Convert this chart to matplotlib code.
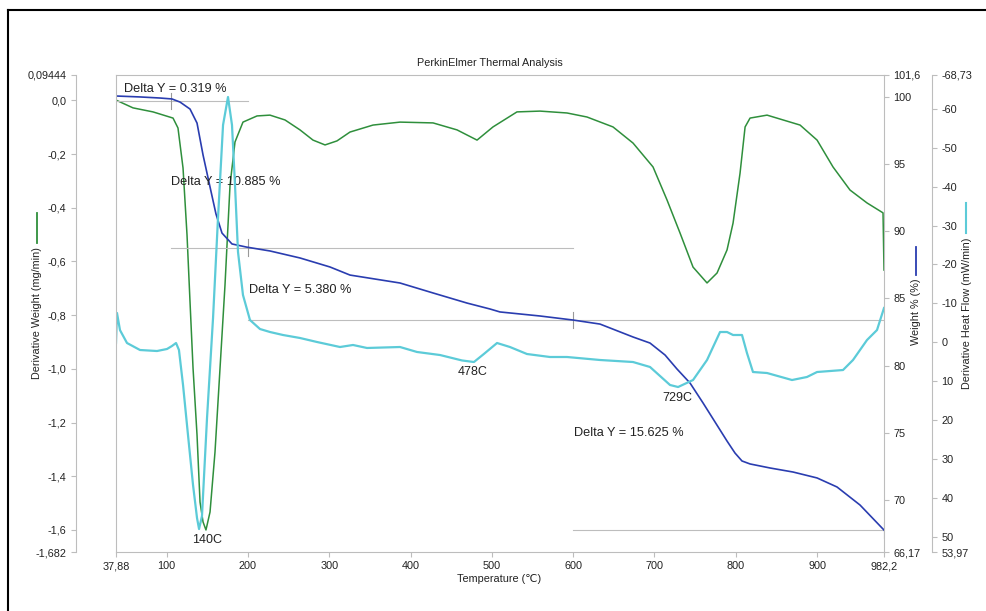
import numpy as np
import matplotlib
matplotlib.use('Agg')
import matplotlib.pyplot as plt
from matplotlib.lines import Line2D

plt.rcParams['font.family'] = ['Liberation Sans', 'DejaVu Sans']

# Weight % (TGA) curve
temp_w = [37.88, 67.4, 92.0, 106.7, 116.6, 128.9, 137.5, 144.9, 153.5, 160.8, 168.2,
          180.5, 198.2, 227.2, 264.1, 301.0, 325.6, 387.1, 427.7, 469.5,
          497.7, 510.0, 559.2, 599.8, 633.0, 673.6, 694.5, 713.0, 727.7, 743.7, 759.7,
          774.4, 789.2, 799.0, 807.6, 817.5, 842.1, 870.4, 899.9, 924.4, 952.7, 982.2]
weight = [100.04, 99.97, 99.89, 99.82, 99.59, 99.07, 98.03, 95.66, 93.28, 91.28, 89.86,
          89.05, 88.82, 88.53, 88.01, 87.34, 86.74, 86.15, 85.41, 84.66,
          84.22, 84.00, 83.70, 83.40, 83.10, 82.14, 81.69, 80.80, 79.76, 78.72, 77.24,
          75.83, 74.41, 73.52, 72.93, 72.71, 72.41, 72.11, 71.67, 71.00, 69.66, 67.80]

# Derivative weight (DTG) curve, mg/min
temp_dw = [37.88, 58.8, 83.4, 108.0, 114.1, 120.3, 125.2, 128.9, 132.6, 137.5, 141.2,
           144.9, 148.5, 153.5, 159.6, 165.8, 171.9, 178.1, 184.2, 194.0, 211.3, 227.2,
           245.7, 264.1, 280.1, 294.9, 309.6, 325.6, 353.9, 387.1, 427.7, 457.2, 481.8,
           501.4, 530.9, 559.2, 592.4, 617.0, 649.0, 673.6, 698.2, 715.4, 731.4, 747.4,
           764.6, 776.9, 789.2, 796.6, 805.2, 811.4, 817.5, 838.4, 879.0, 899.9, 919.5,
           940.4, 961.3, 981.0, 982.2]
deriv_w = [0.001, -0.028, -0.043, -0.066, -0.103, -0.252, -0.501, -0.751, -0.997, -1.246,
           -1.496, -1.570, -1.600, -1.533, -1.310, -0.997, -0.688, -0.315, -0.155, -0.081,
           -0.058, -0.055, -0.073, -0.110, -0.148, -0.166, -0.151, -0.118, -0.092, -0.081,
           -0.084, -0.110, -0.148, -0.099, -0.043, -0.040, -0.047, -0.062, -0.099, -0.159,
           -0.248, -0.371, -0.494, -0.621, -0.680, -0.643, -0.557, -0.457, -0.271, -0.099,
           -0.066, -0.055, -0.092, -0.148, -0.248, -0.334, -0.382, -0.419, -0.632]

# Derivative heat flow curve, mW/min
temp_hf = [37.88, 39.1, 42.8, 51.4, 67.4, 88.3, 100.6, 106.7, 111.7, 115.3, 120.3, 126.4,
           132.6, 137.5, 140.0, 143.6, 149.8, 157.2, 163.3, 169.5, 175.6, 180.5, 184.2,
           187.9, 194.0, 202.6, 214.9, 227.2, 243.2, 264.1, 285.0, 313.3, 329.3, 346.5,
           387.1, 408.0, 436.3, 463.3, 478.0, 490.4, 506.4, 522.3, 543.2, 571.5, 592.4,
           633.0, 673.6, 694.5, 719.1, 729.0, 747.4, 764.6, 780.6, 789.2, 796.6, 807.6,
           813.7, 821.1, 838.4, 869.1, 887.5, 899.9, 931.8, 944.1, 961.3, 973.6, 982.2]
heat_flow = [0.21, -7.51, -3.10, 0.21, 2.01, 2.27, 1.75, 0.98, 0.21, 2.01, 11.01, 23.87,
             36.74, 45.23, 48.06, 44.71, 19.50, -6.22, -31.94, -55.87, -63.07, -55.87,
             -40.43, -23.20, -12.14, -5.71, -3.39, -2.62, -1.85, -1.08, -0.05, 1.24, 0.72,
             1.49, 1.24, 2.52, 3.30, 4.70, 5.10, 3.00, 0.21, 1.24, 3.04, 3.81, 3.81, 4.58,
             5.10, 6.38, 11.01, 11.53, 9.73, 4.58, -2.62, -2.62, -1.85, -1.85, 2.78, 7.67,
             7.93, 9.73, 8.95, 7.67, 7.16, 4.58, -0.56, -3.13, -8.79]

# Weight-loss steps
start_weight = 99.99
delta_y = [0.319, 10.885, 5.380, 15.625]
step_bounds = [37.88, 105.5, 200.0, 600.0, 982.2]
delta_text_pos = [(47.7, 100.56), (105.5, 93.65), (201.4, 85.63), (601.0, 75.01)]

# Peak temperatures on the heat flow curve
peak_temps = [140, 478, 729]
peak_text_pos = [(149.8, 50.9), (476.8, 7.67), (727.7, 14.36)]

x_ticks = [37.88, 100, 200, 300, 400, 500, 600, 700, 800, 900, 982.2]
x_labels = ['37,88', '100', '200', '300', '400', '500', '600', '700', '800', '900', '982,2']
dw_ticks = [0.09444, 0.0, -0.2, -0.4, -0.6, -0.8, -1.0, -1.2, -1.4, -1.6, -1.682]
dw_labels = ['0,09444', '0,0', '-0,2', '-0,4', '-0,6', '-0,8', '-1,0', '-1,2', '-1,4', '-1,6', '-1,682']
w_ticks = [66.17, 70, 75, 80, 85, 90, 95, 100, 101.6]
w_labels = ['66,17', '70', '75', '80', '85', '90', '95', '100', '101,6']
hf_ticks = [-68.73, -60, -50, -40, -30, -20, -10, 0, 10, 20, 30, 40, 50, 53.97]
hf_labels = ['-68,73', '-60', '-50', '-40', '-30', '-20', '-10', '0', '10', '20', '30', '40', '50', '53,97']

GREEN = '#2f8f3c'
BLUE = '#2a3db0'
CYAN = '#5ccbd8'
GREY = '#bdbdbd'
TXT = '#222222'

W, H = 986, 611
PX = 72 / 100  # points per pixel at 100 dpi


def fx(px):
    return px / W


def fy(py):
    return 1 - py / H


fig = plt.figure(figsize=(9.86, 6.11), dpi=100)
ax = fig.add_axes([fx(116), fy(552), fx(884) - fx(116), fy(75) - fy(552)])
ax_w = ax.twinx()
ax_hf = ax.twinx()

tick_kw = dict(direction='out', length=4 * PX * 1.3, width=0.8, color=GREY,
               labelsize=7.8, labelcolor=TXT, pad=3)

# derivative weight axis (left, detached)
ax.plot(temp_dw, deriv_w, color=GREEN, lw=1.1)
ax.set_xlim(37.88, 982.2)
ax.set_ylim(-1.682, 0.09444)
ax.set_xticks(x_ticks, x_labels)
ax.set_yticks(dw_ticks, dw_labels)
ax.tick_params(axis='both', **tick_kw)
ax.spines['left'].set_position(('outward', 40 * PX))
ax.spines['right'].set_visible(False)
for s in ['left', 'top', 'bottom']:
    ax.spines[s].set_color(GREY)
    ax.spines[s].set_linewidth(0.8)

# weight % axis
ax_w.plot(temp_w, weight, color=BLUE, lw=1.2, zorder=3)
ax_w.set_ylim(66.17, 101.6)
ax_w.set_yticks(w_ticks, w_labels)
ax_w.tick_params(axis='y', **tick_kw)
for s in ['left', 'top', 'bottom']:
    ax_w.spines[s].set_visible(False)
ax_w.spines['right'].set_color(GREY)
ax_w.spines['right'].set_linewidth(0.8)

# step lines for each Delta Y
levels = start_weight - np.cumsum(delta_y)
for i, lev in enumerate(levels):
    x0 = step_bounds[i]
    x1 = step_bounds[min(i + 2, len(step_bounds) - 1)]
    xt = step_bounds[i + 1]
    ax_w.plot([x0, x1], [lev, lev], color=GREY, lw=0.8, zorder=1)
    ax_w.plot([xt, xt], [lev - 0.6, lev + 0.6], color='#999999', lw=0.8, zorder=1)
    tx, ty = delta_text_pos[i]
    ax_w.text(tx, ty, 'Delta Y = %.3f %%' % delta_y[i], fontsize=9.2,
              color=TXT, ha='left', va='center')

# derivative heat flow axis (outer right, inverted)
ax_hf.plot(temp_hf, heat_flow, color=CYAN, lw=1.6, zorder=2)
ax_hf.set_ylim(53.97, -68.73)
ax_hf.set_yticks(hf_ticks, hf_labels)
ax_hf.tick_params(axis='y', **tick_kw)
ax_hf.spines['right'].set_position(('outward', 48 * PX))
ax_hf.spines['top'].set_visible(False)
ax_hf.spines['bottom'].set_visible(False)
for s in ['left', 'right']:
    ax_hf.spines[s].set_color(GREY)
    ax_hf.spines[s].set_linewidth(0.8)

for t, (tx, ty) in zip(peak_temps, peak_text_pos):
    ax_hf.text(tx, ty, '%dC' % t, fontsize=9, color=TXT, ha='center', va='center')

# titles and axis labels
fig.text(fx(490), fy(63), 'PerkinElmer Thermal Analysis', fontsize=7.8,
         color=TXT, ha='center', va='center')
fig.text(fx(499), fy(579), 'Temperature (℃)', fontsize=7.8, color=TXT,
         ha='center', va='center')
fig.text(fx(37), fy(313), 'Derivative Weight (mg/min)', fontsize=7.8, color=TXT,
         rotation=90, ha='center', va='center')
fig.text(fx(916), fy(312), 'Weight % (%)', fontsize=7.8, color=TXT,
         rotation=90, ha='center', va='center')
fig.text(fx(967), fy(313), 'Derivative Heat Flow (mW/min)', fontsize=7.8, color=TXT,
         rotation=90, ha='center', va='center')

# colour keys next to the axis labels
fig.add_artist(Line2D([fx(37), fx(37)], [fy(213), fy(243)], color=GREEN, lw=1.3))
fig.add_artist(Line2D([fx(916), fx(916)], [fy(247), fy(275)], color=BLUE, lw=1.3))
fig.add_artist(Line2D([fx(966), fx(966)], [fy(203), fy(233)], color=CYAN, lw=1.5))

# frame along top and left
fig.add_artist(Line2D([fx(8), 1], [fy(10), fy(10)], color='black', lw=1.5))
fig.add_artist(Line2D([fx(8), fx(8)], [fy(10), 0], color='black', lw=1.5))

fig.savefig('out.png', dpi=100)
